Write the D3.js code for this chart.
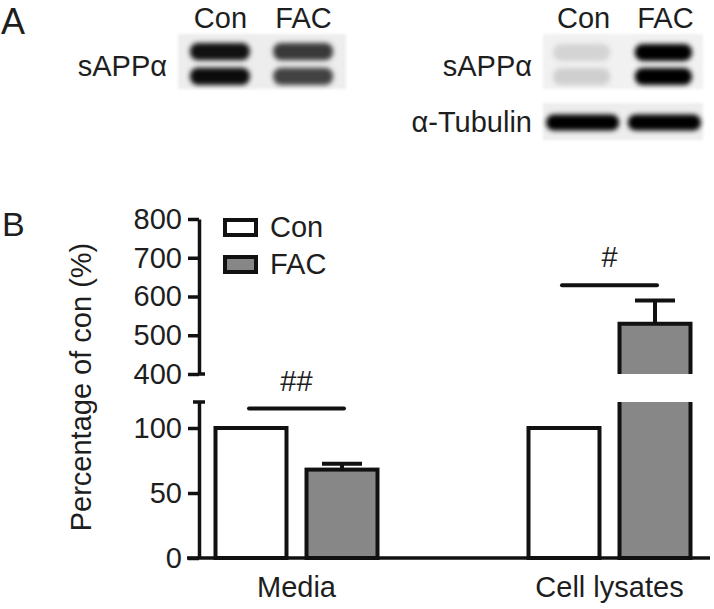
<!DOCTYPE html>
<html>
<head>
<meta charset="utf-8">
<script src="https://cdn.jsdelivr.net/npm/d3@7"></script>
<style>
  body { margin: 0; background: #fff; }
  text { font-family: 'Liberation Sans', Arial, Helvetica, sans-serif; fill: #1e1e1e; }
</style>
</head>
<body>
<svg id="fig" width="714" height="609"></svg>
<script>
// ---- data ----
const groups = ['Media', 'Cell lysates'];
const series = ['Con', 'FAC'];
const conMeans = [100, 100];
const facMeans = [68, 530];
const facSem = [4.5, 60];
const lowerTicks = [0, 50, 100];
const upperTicks = [400, 500, 600, 700, 800];
const sigLevels = [115, 629];
const sigLabels = ['##', '#'];

// blot band intensities, [lane][row], 0 = blank, 1 = saturated
const lanes = ['Con', 'FAC'];
const bandRows = ['upper', 'lower'];
const mediaBands = [[0.93, 0.95], [0.76, 0.72]];
const lysateBands = [[0.12, 0.14], [1, 1]];
const tubulinBands = [1, 1];

const FS = 29;
const svg = d3.select('#fig');

const defs = svg.append('defs');
defs.append('filter').attr('id', 'blur')
  .attr('x', '-20%').attr('y', '-40%').attr('width', '140%').attr('height', '180%')
  .append('feGaussianBlur').attr('stdDeviation', 2.8);
defs.append('filter').attr('id', 'soft')
  .append('feGaussianBlur').attr('stdDeviation', 1.5);

// ---- panel A: blots ----
svg.append('text').attr('x', 1).attr('y', 34).attr('font-size', 36).text('A');

function drawBlot (opts) {
  const g = svg.append('g');
  g.append('rect')
    .attr('x', opts.bg[0]).attr('y', opts.bg[1])
    .attr('width', opts.bg[2]).attr('height', opts.bg[3])
    .attr('fill', opts.bgColor)
    .attr('filter', 'url(#soft)');

  const lx = d3.scaleBand().domain(lanes).range(opts.laneRange).paddingInner(opts.lanePad);
  const ry = d3.scaleBand().domain(opts.rows).range(opts.rowRange).paddingInner(0.3);

  const cells = [];
  lanes.forEach((l, i) => opts.rows.forEach((r, j) => {
    cells.push({ lane: l, row: r, v: opts.values[i][j] });
  }));

  g.selectAll('rect.band')
    .data(cells)
    .enter()
    .append('rect')
    .attr('class', 'band')
    .attr('x', d => lx(d.lane) + opts.inset[0])
    .attr('y', d => ry(d.row))
    .attr('width', lx.bandwidth() - opts.inset[0] - opts.inset[1])
    .attr('height', ry.bandwidth())
    .attr('rx', 8)
    .attr('fill', '#000')
    .attr('fill-opacity', d => d.v)
    .attr('filter', 'url(#blur)');

  g.selectAll('text.row')
    .data([opts.label])
    .enter()
    .append('text')
    .attr('x', opts.labelX)
    .attr('y', opts.labelY)
    .attr('text-anchor', 'end')
    .attr('font-size', FS)
    .text(d => d);

  return lx;
}

const lxMedia = drawBlot({
  bg: [178, 34, 168, 55], bgColor: '#ededed',
  laneRange: [187, 335], lanePad: 0.22,
  rows: bandRows, rowRange: [43, 85],
  values: mediaBands, inset: [3, 2],
  label: 'sAPP\u03b1', labelX: 167, labelY: 76
});

const lxLys = drawBlot({
  bg: [543, 34, 160, 55], bgColor: '#f1f1f1',
  laneRange: [545, 702], lanePad: 0.08,
  rows: bandRows, rowRange: [44, 85],
  values: lysateBands, inset: [8, 10],
  label: 'sAPP\u03b1', labelX: 532, labelY: 76
});

drawBlot({
  bg: [543, 103, 160, 37], bgColor: '#ededed',
  laneRange: [545, 702], lanePad: 0.08,
  rows: ['tub'], rowRange: [111, 134],
  values: tubulinBands.map(v => [v]), inset: [1, 1],
  label: '\u03b1-Tubulin', labelX: 532, labelY: 132
});

[lxMedia, lxLys].forEach(lx => {
  svg.selectAll(null)
    .data(lanes)
    .enter()
    .append('text')
    .attr('x', d => lx(d) + lx.bandwidth() / 2 + 1)
    .attr('y', 28)
    .attr('text-anchor', 'middle')
    .attr('font-size', FS)
    .text(d => d);
});

// ---- panel B: bar chart with broken axis ----
svg.append('text').attr('x', 2).attr('y', 236).attr('font-size', 34).text('B');

const axisX = 199;
const yLow = d3.scaleLinear().domain([0, 120]).range([558, 402]);
const yHigh = d3.scaleLinear().domain([400, 800]).range([374, 219]);
const yOf = v => (v <= 120 ? yLow(v) : yHigh(v));

const x0 = d3.scaleBand().domain(groups).range([140, 766]);
const x1 = d3.scaleBand().domain(series)
  .range([x0.bandwidth() / 2 - 81, x0.bandwidth() / 2 + 81])
  .paddingInner(0.22);

function styleAxis (g) {
  g.attr('font-size', null).attr('font-family', null);
  g.selectAll('path, line').attr('stroke', '#111').attr('stroke-width', 3.5);
  g.selectAll('text').attr('font-size', FS).attr('fill', '#1e1e1e');
}

svg.append('g')
  .attr('transform', `translate(${axisX},0)`)
  .call(d3.axisLeft(yLow).tickValues(lowerTicks).tickSize(11).tickSizeOuter(0).tickPadding(6))
  .call(styleAxis);

svg.append('g')
  .attr('transform', `translate(${axisX},0)`)
  .call(d3.axisLeft(yHigh).tickValues(upperTicks).tickSize(11).tickSizeOuter(0).tickPadding(6))
  .call(styleAxis);

// break caps
svg.append('line')
  .attr('x1', axisX - 6).attr('x2', axisX + 6)
  .attr('y1', yLow(120)).attr('y2', yLow(120))
  .attr('stroke', '#111').attr('stroke-width', 3.5);
svg.append('line')
  .attr('x1', axisX).attr('x2', axisX + 6)
  .attr('y1', yHigh(400)).attr('y2', yHigh(400))
  .attr('stroke', '#111').attr('stroke-width', 3.5);

// bars
const bars = [];
groups.forEach((g, i) => {
  bars.push({ g: g, s: 'Con', v: conMeans[i], e: 0 });
  bars.push({ g: g, s: 'FAC', v: facMeans[i], e: facSem[i] });
});
const fillOf = s => (s === 'Con' ? '#fff' : '#878787');
const bx = d => x0(d.g) + x1(d.s);
const bw = x1.bandwidth();

const barG = svg.append('g');
barG.selectAll('rect.bar')
  .data(bars.filter(d => d.v <= 120))
  .enter()
  .append('rect')
  .attr('class', 'bar')
  .attr('x', bx)
  .attr('y', d => yLow(d.v))
  .attr('width', bw)
  .attr('height', d => yLow(0) - yLow(d.v))
  .attr('fill', d => fillOf(d.s))
  .attr('stroke', '#111')
  .attr('stroke-width', 4);

// broken bars: lower part (open top) + upper part (open bottom)
const broken = bars.filter(d => d.v > 120);
broken.forEach(d => {
  const x = bx(d);
  barG.append('rect')
    .attr('x', x).attr('y', yLow(120))
    .attr('width', bw).attr('height', yLow(0) - yLow(120))
    .attr('fill', fillOf(d.s));
  barG.append('path')
    .attr('d', `M${x},${yLow(120)}V${yLow(0)}H${x + bw}V${yLow(120)}`)
    .attr('fill', 'none').attr('stroke', '#111').attr('stroke-width', 4);
  barG.append('rect')
    .attr('x', x).attr('y', yHigh(d.v))
    .attr('width', bw).attr('height', yHigh(400) - yHigh(d.v))
    .attr('fill', fillOf(d.s));
  barG.append('path')
    .attr('d', `M${x},${yHigh(400)}V${yHigh(d.v)}H${x + bw}V${yHigh(400)}`)
    .attr('fill', 'none').attr('stroke', '#111').attr('stroke-width', 4)
    .attr('stroke-linejoin', 'miter');
});

// error bars (upper only)
const errG = svg.append('g').attr('stroke', '#111').attr('stroke-width', 4);
bars.filter(d => d.e > 0).forEach(d => {
  const cx = bx(d) + bw / 2;
  errG.append('line')
    .attr('x1', cx).attr('x2', cx)
    .attr('y1', yOf(d.v)).attr('y2', yOf(d.v + d.e));
  errG.append('line')
    .attr('x1', cx - 20).attr('x2', cx + 20)
    .attr('y1', yOf(d.v + d.e)).attr('y2', yOf(d.v + d.e));
});

// x baseline
svg.append('line')
  .attr('x1', axisX - 12).attr('x2', 710)
  .attr('y1', yLow(0)).attr('y2', yLow(0))
  .attr('stroke', '#111').attr('stroke-width', 3.5);

// group labels
svg.selectAll('text.grp')
  .data(groups)
  .enter()
  .append('text')
  .attr('class', 'grp')
  .attr('x', d => x0(d) + x0.bandwidth() / 2)
  .attr('y', 597)
  .attr('text-anchor', 'middle')
  .attr('font-size', FS)
  .text(d => d);

// significance
groups.forEach((g, i) => {
  const xa = x0(g) + x1('Con') + bw / 2 - 2;
  const xb = x0(g) + x1('FAC') + bw / 2 + 2;
  const y = yOf(sigLevels[i]);
  svg.append('line')
    .attr('x1', xa).attr('x2', xb).attr('y1', y).attr('y2', y)
    .attr('stroke', '#111').attr('stroke-width', 4).attr('stroke-linecap', 'round');
  svg.append('text')
    .attr('x', (xa + xb) / 2)
    .attr('y', y - 18)
    .attr('text-anchor', 'middle')
    .attr('font-size', FS)
    .text(sigLabels[i]);
});

// y label
svg.append('text')
  .attr('transform', 'translate(91,387) rotate(-90)')
  .attr('text-anchor', 'middle')
  .attr('font-size', FS)
  .text('Percentage of con (%)');

// legend
const leg = svg.append('g').attr('transform', 'translate(225,220)');
const legItems = leg.selectAll('g')
  .data(series)
  .enter()
  .append('g')
  .attr('transform', (d, i) => `translate(0,${i * 37})`);
legItems.append('rect')
  .attr('width', 31).attr('height', 15)
  .attr('fill', d => fillOf(d))
  .attr('stroke', '#111').attr('stroke-width', 4);
legItems.append('text')
  .attr('x', 45).attr('y', 17)
  .attr('font-size', FS)
  .text(d => d);
</script>
</body>
</html>
